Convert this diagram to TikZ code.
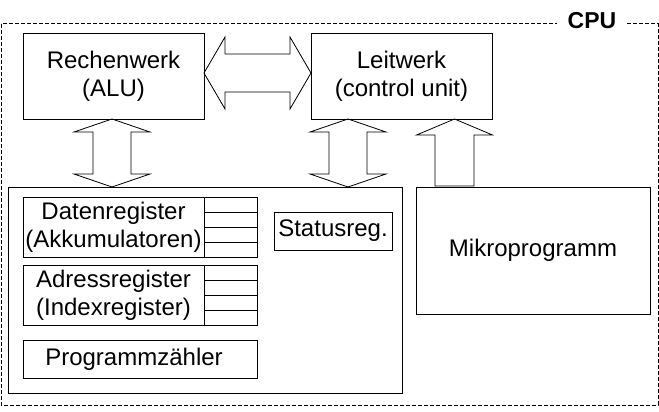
\documentclass[tikz,border=0pt]{standalone}
\usepackage{fontspec}
\setmainfont{Liberation Sans}
\usetikzlibrary{calc}
\newcommand{\vdblarrow}[2]{\draw[bigarrow] (#1) -- ++(38,13) -- ++(-19,0) -- ($(#2)+(19,-13)$) -- ++(19,0) -- (#2) -- ++(-38,-13) -- ++(19,0) -- ($(#1)+(-19,13)$) -- ++(-19,0) -- cycle;}
\newcommand{\hdblarrow}[2]{\draw[bigarrow] (#1) -- ++(21,-36) -- ++(0,17) -- ($(#2)+(-21,-19)$) -- ++(0,-17) -- (#2) -- ++(-21,36) -- ++(0,-17) -- ($(#1)+(21,19)$) -- ++(0,17) -- cycle;}
\begin{document}
\begin{tikzpicture}[x=1pt,y=-1pt,line width=1pt,
  box/.style={draw, rectangle, inner sep=0pt, outer sep=0pt},
  lbl/.style={align=center, font=\fontsize{24}{28}\selectfont, inner sep=0pt},
  bigarrow/.style={draw, line width=0.8pt, line join=miter},
  cpubox/.style={draw, dash pattern=on 4pt off 2pt}]
\useasboundingbox (0,0) rectangle (659,412);
% CPU frame
\draw[cpubox] (1,24) rectangle (658,405);
\node[font=\fontsize{23}{26}\selectfont\bfseries, fill=white, inner xsep=10.5pt, inner ysep=2pt] (cpu) at (592,21) {CPU};
% top boxes
\node[box, lbl, minimum width=181pt, minimum height=85pt] (alu) at (113.5,76.5) {Rechenwerk\\(ALU)};
\node[box, lbl, minimum width=181pt, minimum height=85pt] (lw) at (401.5,76.5) {Leitwerk\\(control unit)};
% register area
\node[box, minimum width=394pt, minimum height=206pt] (regs) at (205,290) {};
\node[box, minimum width=234pt, minimum height=60pt] (dr) at (140,227) {};
\draw (dr.north west) ++(181,0) -- ++(0,60);
\foreach \i in {15,30,45} \draw ($(dr.north west)+(181,\i)$) -- ($(dr.north east)+(0,\i)$);
\node[lbl] (drt) at ($(dr.west)+(90.5,0)$) {Datenregister\\(Akkumulatoren)};
\node[box, minimum width=234pt, minimum height=60pt] (ar) at (140,295) {};
\draw (ar.north west) ++(181,0) -- ++(0,60);
\foreach \i in {15,30,45} \draw ($(ar.north west)+(181,\i)$) -- ($(ar.north east)+(0,\i)$);
\node[lbl] (art) at ($(ar.west)+(90.5,0)$) {Adressregister\\(Indexregister)};
\node[box, minimum width=234pt, minimum height=38pt] (pz) at (140,359) {};
\node[lbl] (pzt) at ($(pz.center)+(-6,0)$) {Programmzähler};
\node[box, lbl, minimum width=118pt, minimum height=38pt] (sr) at (333,231) {Statusreg.};
% microprogram
\node[box, lbl, minimum width=234pt, minimum height=127pt] (mp) at (533,250.5) {Mikroprogramm};
% arrows
\coordinate (h1) at ($(alu.east)+(0,-3.5)$);
\coordinate (h2) at ($(lw.west)+(0,-3.5)$);
\hdblarrow{h1}{h2}
\coordinate (v1) at ($(alu.south)+(-1.5,0)$);
\coordinate (v2) at (v1 |- regs.north);
\vdblarrow{v1}{v2}
\coordinate (w1) at ($(lw.south)+(-53.5,0)$);
\coordinate (w2) at (w1 |- regs.north);
\vdblarrow{w1}{w2}
\coordinate (u1) at ($(lw.south)+(53,0)$);
\draw[bigarrow] (u1) -- ++(38,16) -- ++(-18.5,0) -- ++(0,51) -- ++(-39,0) -- ++(0,-51) -- ++(-18.5,0) -- cycle;
\end{tikzpicture}
\end{document}
